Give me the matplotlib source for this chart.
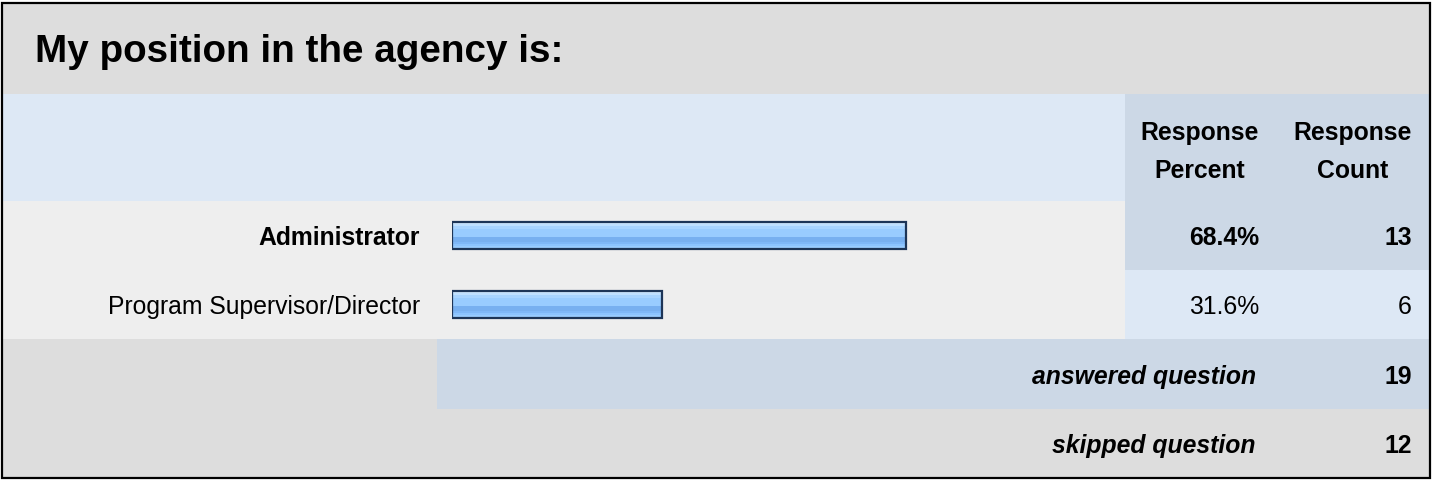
"""
Survey result table: "My position in the agency is:"
"""
import matplotlib.pyplot as plt
import numpy as np
from matplotlib.patches import Rectangle

# data
title = "My position in the agency is:"
answers = ["Administrator", "Program Supervisor/Director"]
percents = [68.4, 31.6]
counts = [13, 6]
answered = 19
skipped = 12

plt.rcParams['font.family'] = ['Liberation Sans', 'DejaVu Sans']
FS = 17.8

W, H = 1435, 481
fig = plt.figure(figsize=(W / 100, H / 100), dpi=100)
fig.patch.set_facecolor('white')

ax = fig.add_axes([0, 0, 1, 1])
ax.set_xlim(0, W)
ax.set_ylim(H, 0)
ax.axis('off')

grey = '#dddddd'
light = '#eeeeee'
blue_l = '#dde8f5'
blue_d = '#ccd8e6'

def cell(x0, y0, x1, y1, color):
    ax.add_patch(Rectangle((x0, y0), x1 - x0, y1 - y0, facecolor=color,
                           edgecolor='none', zorder=0))

col_split = 1125
cell(2, 4, 1430, 95, grey)            # title band
cell(2, 95, col_split, 202, blue_l)   # header
cell(col_split, 95, 1430, 202, blue_d)
row_tops = [202, 271]
row_h = 69
right_cols = [blue_d, blue_l]
for i in range(len(answers)):
    y0 = row_tops[i]
    cell(2, y0, col_split, y0 + row_h, light)
    cell(col_split, y0, 1430, y0 + row_h, right_cols[i])
cell(2, 340, 437, 410, grey)          # answered row
cell(437, 340, 1430, 410, blue_d)
cell(2, 410, 1430, 479, grey)         # skipped row

# outer frame
ax.add_patch(Rectangle((2, 4), 1428, 475, facecolor='none',
                       edgecolor='black', lw=1.6, zorder=5))

ax.text(35, 52, title, fontsize=27.8, fontweight='bold', va='center', ha='left')

# header
for cx, words in [(1200, ("Response", "Percent")), (1353, ("Response", "Count"))]:
    ax.text(cx, 133, words[0], fontsize=FS, fontweight='bold', ha='center', va='center')
    ax.text(cx, 171, words[1], fontsize=FS, fontweight='bold', ha='center', va='center')

# answer rows
for i, (lab, p, c) in enumerate(zip(answers, percents, counts)):
    yc = row_tops[i] + row_h / 2 + 1.5
    wt = 'bold' if i == 0 else 'normal'
    ax.text(420, yc, lab, fontsize=FS, fontweight=wt, ha='right', va='center')
    ax.text(1259, yc, f"{p:.1f}%", fontsize=FS, fontweight=wt, ha='right', va='center')
    ax.text(1412, yc, str(c), fontsize=FS, fontweight=wt, ha='right', va='center')

ax.text(1256, 377, "answered question", fontsize=FS, fontweight='bold',
        style='italic', ha='right', va='center')
ax.text(1412, 377, str(answered), fontsize=FS, fontweight='bold', ha='right', va='center')
ax.text(1256, 446, "skipped question", fontsize=FS, fontweight='bold',
        style='italic', ha='right', va='center')
ax.text(1412, 446, str(skipped), fontsize=FS, fontweight='bold', ha='right', va='center')

# bar axes: 0-100 % across the bar column
bx0, bw = 452, 664
by0, by1 = 202, 340
bax = fig.add_axes([bx0 / W, 1 - by1 / H, bw / W, (by1 - by0) / H])
bax.set_xlim(0, 100)
bax.set_ylim(len(answers) - 0.5, -0.5)
bax.axis('off')
bax.patch.set_alpha(0)

grad = np.array([
    '#cfe8ff', '#cfe8ff', '#bfe0ff', '#a8d4ff', '#a8d4ff', '#99ccff', '#99ccff',
    '#99ccff', '#99ccff', '#99ccff', '#78b0f0', '#78b0f0', '#78b0f0', '#7fb8f8',
    '#8cc4ff', '#99ccff', '#99ccff'])
import matplotlib.colors as mcolors
rgb = np.array([mcolors.to_rgb(c) for c in grad])[:, None, :]

bh = 0.4
ypos = np.arange(len(answers))
bars = bax.barh(ypos, percents, height=bh, color='#99ccff', edgecolor='none', zorder=1)
for b, y, p in zip(bars, ypos, percents):
    im = bax.imshow(rgb, extent=(0, p, y + bh / 2, y - bh / 2), aspect='auto',
                    origin='upper', interpolation='nearest', zorder=2)
    im.set_clip_path(b)
bax.barh(ypos, percents, height=bh, facecolor='none', edgecolor='#1d3557',
         linewidth=1.6, zorder=3)
bax.set_xlim(0, 100)
bax.set_ylim(len(answers) - 0.5, -0.5)

fig.savefig('out.png', dpi=100)
plt.close(fig)
